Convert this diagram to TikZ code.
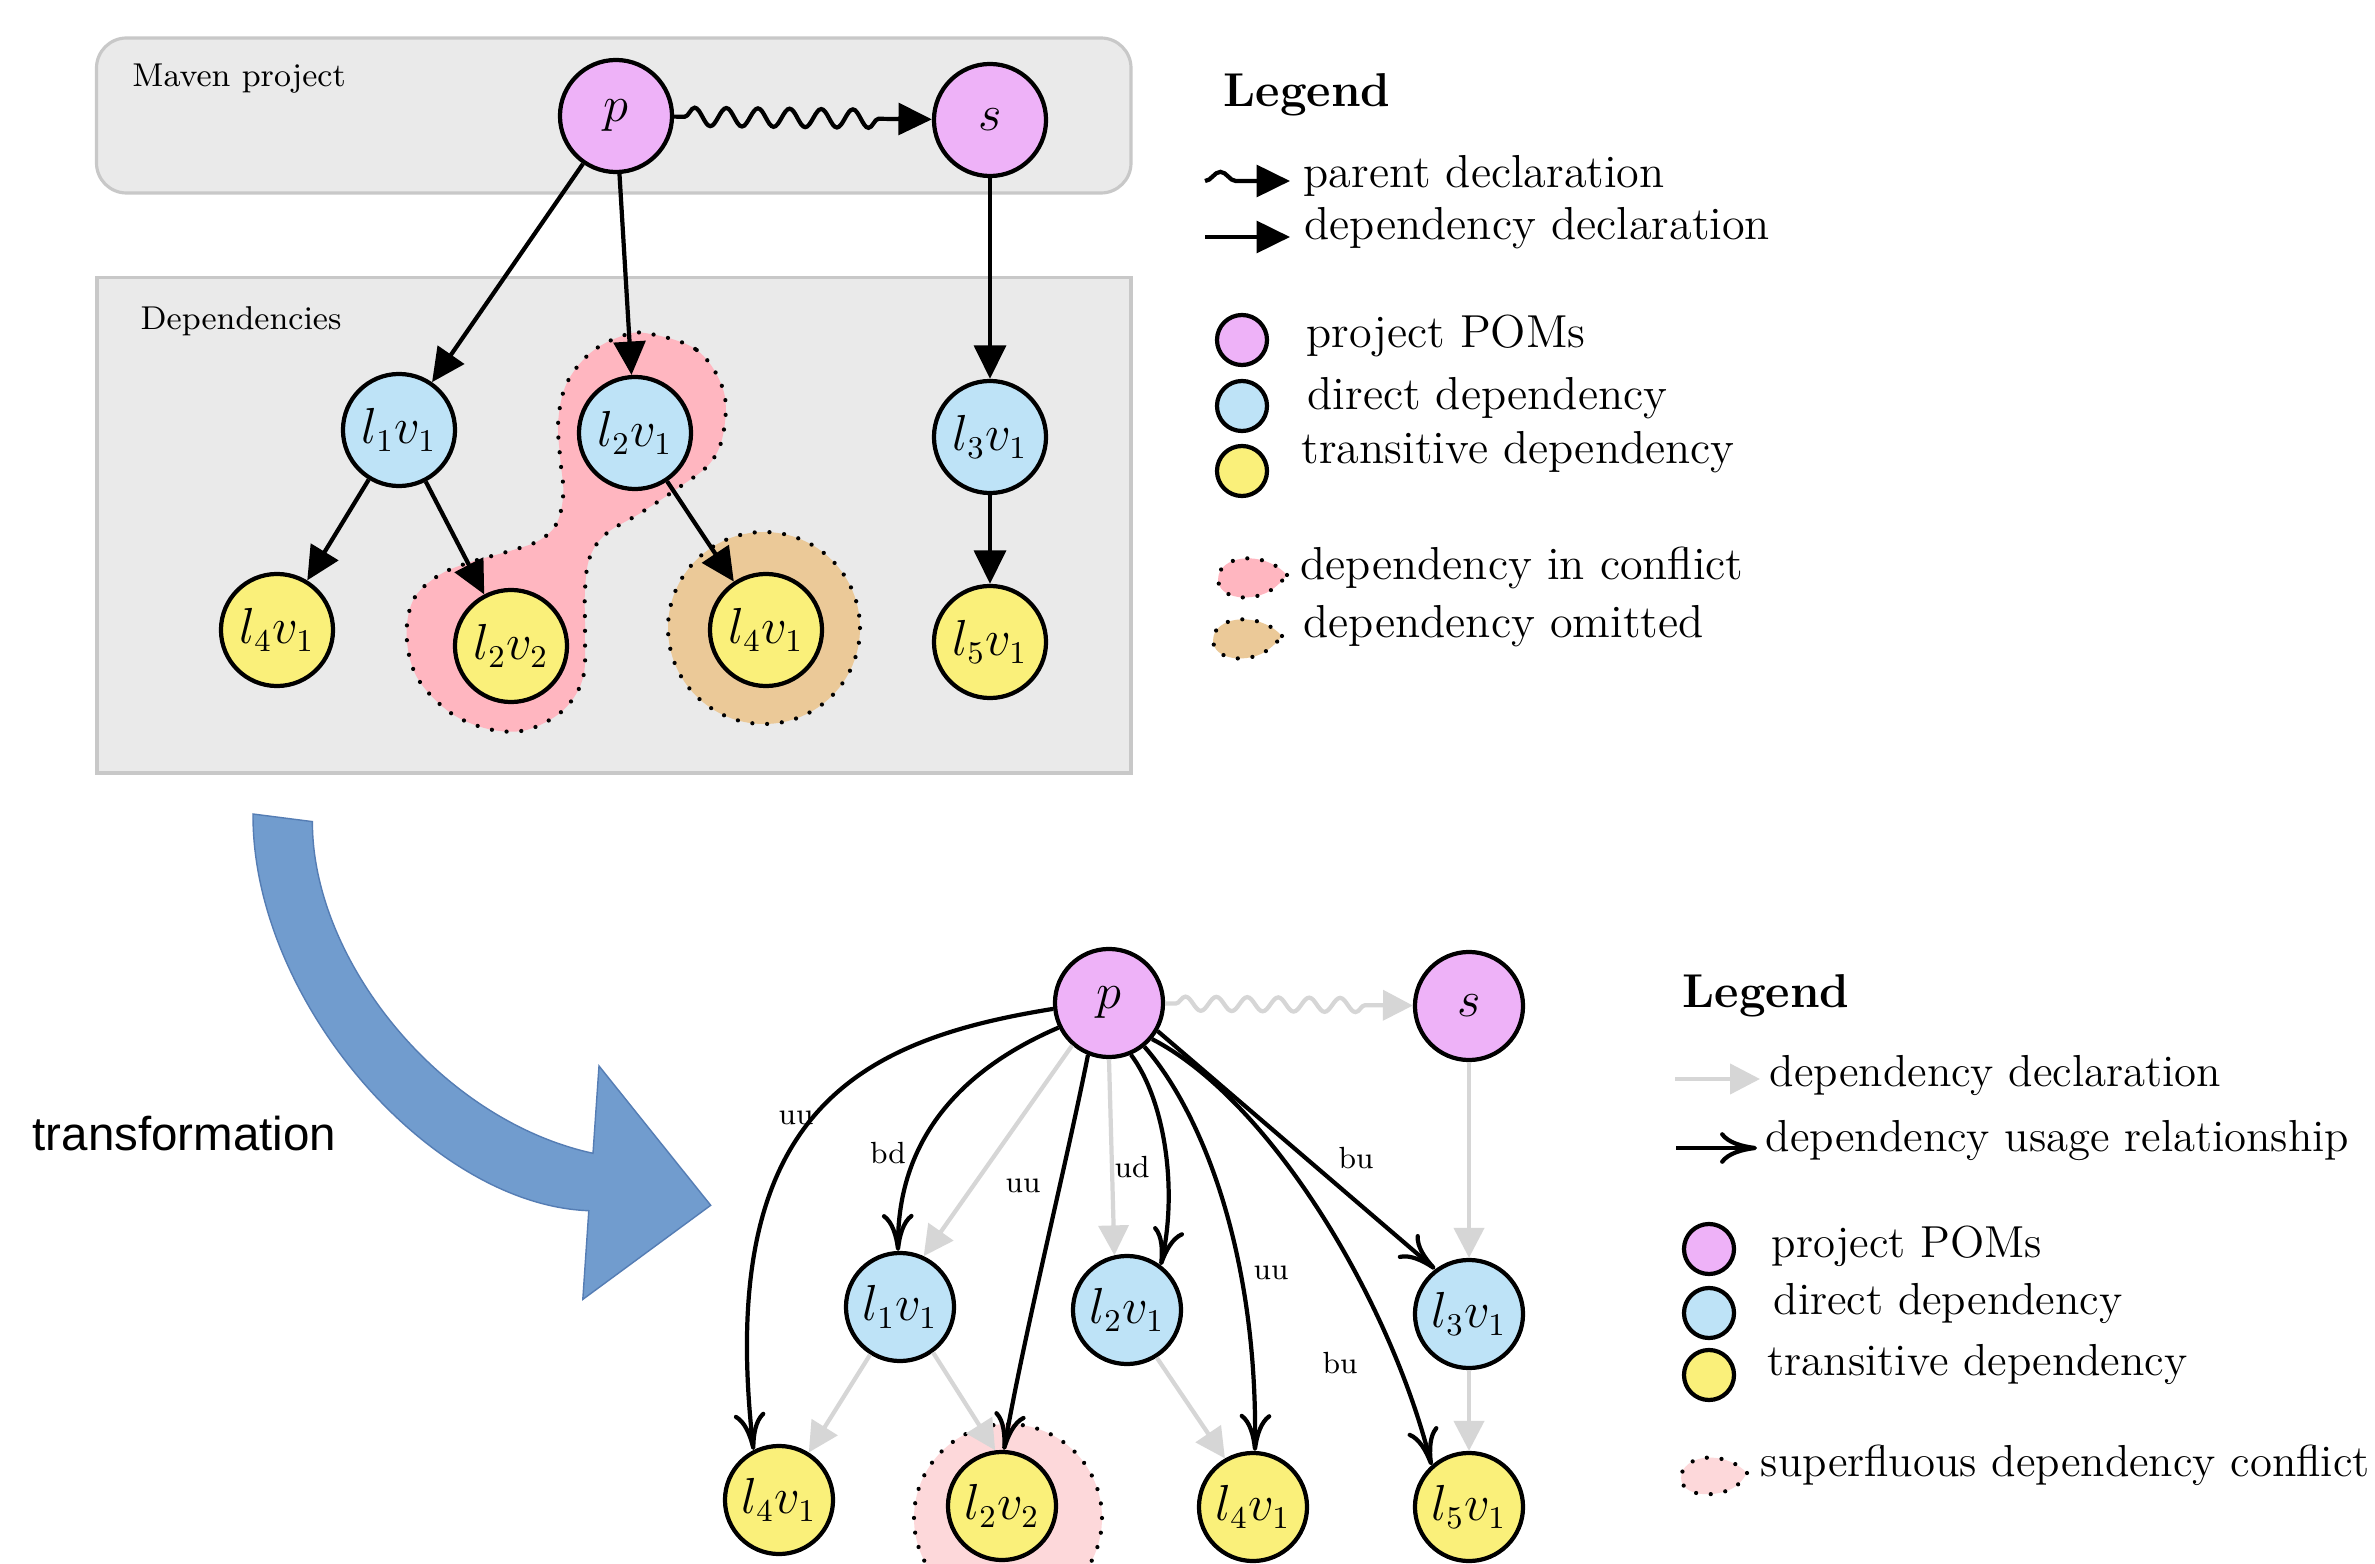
\documentclass[tikz,border=0pt]{standalone}
\usepackage{fontspec}
\newfontfamily\trafont{Liberation Sans}
\usetikzlibrary{arrows.meta,decorations.pathmorphing}
\definecolor{pomfill}{RGB}{238,178,248}
\definecolor{dirfill}{RGB}{190,227,247}
\definecolor{trafill}{RGB}{250,240,122}
\definecolor{boxfill}{RGB}{234,234,234}
\definecolor{boxdraw}{RGB}{200,200,200}
\definecolor{conflictc}{RGB}{255,182,192}
\definecolor{omittedc}{RGB}{235,201,152}
\definecolor{superc}{RGB}{253,216,218}
\definecolor{declgray}{RGB}{214,214,214}
\definecolor{bluefill}{RGB}{113,156,206}
\definecolor{blueline}{RGB}{85,125,180}
\tikzset{
  nd/.style={circle, draw=black, line width=1.2pt, minimum size=1.12cm, inner sep=0pt,
    font=\fontsize{13.4}{15}\selectfont},
  bnd/.style={minimum size=1.08cm},
  pom/.style={nd, fill=pomfill},
  dir/.style={nd, fill=dirfill},
  tra/.style={nd, fill=trafill},
  lgc/.style={circle, draw=black, line width=1.2pt, minimum size=0.5cm, inner sep=0pt},
  decl/.style={line width=1.2pt, -{Triangle[length=9.5pt,width=9pt]}},
  parent/.style={decl, decorate, decoration={snake, amplitude=2.6pt, segment length=9pt, pre length=3pt, post length=11pt}},
  gdecl/.style={draw=declgray, line width=1.2pt, -{Triangle[length=8.5pt,width=8.5pt]}},
  gparent/.style={gdecl, decorate, decoration={snake, amplitude=2pt, segment length=8.8pt, pre length=3pt, post length=10pt}},
  usage/.style={line width=1.2pt, -{Computer Modern Rightarrow[length=10.5pt,width=9pt]}},
  blob/.style={draw=black, line width=1.2pt, dash pattern=on 0pt off 4.2pt, line cap=round},
  boxst/.style={draw=boxdraw, fill=boxfill, line width=0.9pt},
  lgtxt/.style={anchor=base west, inner sep=0pt, font=\fontsize{13.15}{15}\selectfont},
  lgtxtb/.style={anchor=base west, inner sep=0pt, font=\fontsize{12.75}{15}\selectfont},
  lghead/.style={anchor=base west, inner sep=0pt, font=\fontsize{13.5}{16}\selectfont\bfseries},
  boxlbl/.style={anchor=base west, inner sep=0pt, font=\fontsize{9.4}{11}\selectfont},
  elbl/.style={inner sep=0pt, font=\fontsize{8.7}{10}\selectfont},
}
\begin{document}
\begin{tikzpicture}[x=0.01cm,y=-0.01cm]
\useasboundingbox (0,0) rectangle (2375,1564);
\clip (0,0) rectangle (2375,1564);
\fill[white] (0,0) rectangle (2375,1564);

% ---------------- top diagram ----------------
\draw[boxst, rounded corners=0.3cm] (96.5,38) rectangle (1131,193);
\draw[boxst] (97,277.5) rectangle (1131,773);
\node[boxlbl] (tmaven) at (131.7,86.7) {Maven project};
\node[boxlbl] (tdeps) at (140,329.3) {Dependencies};

% conflict / omitted blobs
\filldraw[blob, fill=conflictc] plot[smooth cycle, tension=0.6] coordinates {
 (646.7,333.3) (696.7,350) (723.3,390) (723.3,433.3) (710,463.3) (680,486.7)
 (640,513.3) (606.7,533.3) (590,556.7) (585,590) (585,633.3) (583.3,676.7)
 (566.7,706.7) (540,725) (513.3,731.7) (480,726.7) (446.7,710) (416.7,676.7)
 (406.7,636.7) (413.3,600) (436.7,576.7) (466.7,563.3) (513.3,550) (540,540)
 (556.7,523.3) (563.3,493.3) (560,456.7) (558.3,420) (566.7,383.3) (590,353.3)
 (620,336.7)};
\filldraw[blob, fill=omittedc] (764,628) circle[radius=96];

\node[pom] (p) at (616,116) {$p$};
\node[pom] (s) at (990,120) {$s$};
\node[dir] (l1) at (399,430) {$l_1v_1$};
\node[dir] (l2) at (635,433) {$l_2v_1$};
\node[dir] (l3) at (990,437) {$l_3v_1$};
\node[tra] (l4a) at (277,630) {$l_4v_1$};
\node[tra] (l22) at (511,646) {$l_2v_2$};
\node[tra] (l4b) at (766,630) {$l_4v_1$};
\node[tra] (l5) at (990,642) {$l_5v_1$};

\draw[parent] (p) -- (s);
\draw[decl] (p) -- (l1);
\draw[decl] (p) -- (l2);
\draw[decl] (s) -- (l3);
\draw[decl] (l1) -- (l4a);
\draw[decl] (l1) -- (l22);
\draw[decl] (l2) -- (l4b);
\draw[decl] (l3) -- (l5);

% top legend
\node[lghead] (tlg) at (1223,107) {Legend};
\coordinate (tw1) at (1205,181);
\coordinate (tw2) at (1290,181);
\draw[line width=1.2pt, -{Triangle[length=9.5pt,width=9pt]}, decorate,
  decoration={snake, amplitude=2.6pt, segment length=14pt, post length=12pt}] (tw1) -- (tw2);
\coordinate (td1) at (1205,237);
\coordinate (td2) at (1290,237);
\draw[decl] (td1) -- (td2);
\node[lgtxt] (tt1) at (1303,188) {parent declaration};
\node[lgtxt] (tt2) at (1304,240) {dependency declaration};
\node[lgc, fill=pomfill] (tc1) at (1242,340) {};
\node[lgc, fill=dirfill] (tc2) at (1242,406) {};
\node[lgc, fill=trafill] (tc3) at (1242,471) {};
\node[lgtxt] (tt3) at (1306,348) {project POMs};
\node[lgtxt] (tt4) at (1307,410) {direct dependency};
\node[lgtxt] (tt5) at (1301,464) {transitive dependency};
\begin{scope}[shift={(1216,557)}]
\filldraw[blob, fill=conflictc] (71,18) .. controls (52,-3) and (15,-4) .. (4,14)
  .. controls (-6,37) and (25,47) .. (50,36) .. controls (60,31) and (67,23) .. (71,18);
\end{scope}
\begin{scope}[shift={(1211,618)}]
\filldraw[blob, fill=omittedc] (71,18) .. controls (52,-3) and (15,-4) .. (4,14)
  .. controls (-6,37) and (25,47) .. (50,36) .. controls (60,31) and (67,23) .. (71,18);
\end{scope}
\node[lgtxt] (tt6) at (1300,580) {dependency in conflict};
\node[lgtxt] (tt7) at (1303,637) {dependency omitted};

% ---------------- transformation arrow ----------------
\filldraw[fill=bluefill, draw=blueline, line width=0.4pt]
  (253,814) -- (312.4,821.6) .. controls (312,960) and (440,1120) .. (593,1153.3)
  -- (599,1066) -- (710.7,1205.3) -- (582.8,1299.4) -- (588.8,1210.7)
  .. controls (430,1205) and (252,1000) .. (253,814) -- cycle;
\node[anchor=base west, inner sep=0pt, font=\trafont\fontsize{13.5}{16}\selectfont] (trans) at (32,1150) {transformation};

% ---------------- bottom diagram ----------------
\filldraw[blob, fill=superc] (1008,1518) circle[radius=94];

\node[pom, bnd] (bp) at (1109,1003) {$p$};
\node[pom, bnd] (bs) at (1469,1006) {$s$};
\node[dir, bnd] (bl1) at (900,1307) {$l_1v_1$};
\node[dir, bnd] (bl2) at (1127,1310) {$l_2v_1$};
\node[dir, bnd] (bl3) at (1469,1314) {$l_3v_1$};
\node[tra, bnd] (bl4a) at (779,1500) {$l_4v_1$};
\node[tra, bnd] (bl22) at (1002,1506) {$l_2v_2$};
\node[tra, bnd] (bl4b) at (1253,1507) {$l_4v_1$};
\node[tra, bnd] (bl5) at (1469,1507) {$l_5v_1$};

% gray declarations
\draw[gparent] (bp) -- (bs);
\draw[gdecl] (bp.229) -- (bl1.65);
\draw[gdecl] (bp.270) -- (bl2.103);
\draw[gdecl] (bs) -- (bl3);
\draw[gdecl] (bl1) -- (bl4a);
\draw[gdecl] (bl1.306) -- (bl22.97);
\draw[gdecl] (bl2.302) -- (bl4b.120);
\draw[gdecl] (bl3) -- (bl5);

% usage relationships
\draw[usage] (bp.186) .. controls (860,1040) and (715,1110) .. (bl4a.117);
\draw[usage] (bp.206) .. controls (960,1070) and (897,1140) .. (bl1.92);
\draw[usage] (bp.248) .. controls (1065,1170) and (1025,1330) .. (bl22.88);
\draw[usage] (bp.293) .. controls (1165,1100) and (1178,1190) .. (bl2.53);
\draw[usage] (bp.309) .. controls (1200,1110) and (1258,1250) .. (bl4b.88);
\draw[usage] (bp.330) -- (bl3.127);
\draw[usage] (bp.320) .. controls (1270,1100) and (1390,1300) .. (bl5.132);

\node[elbl] (e1) at (796,1118) {uu};
\node[elbl] (e2) at (888,1153) {bd};
\node[elbl] (e3) at (1023,1186) {uu};
\node[elbl] (e4) at (1132,1167) {ud};
\node[elbl] (e5) at (1271,1273) {uu};
\node[elbl] (e6) at (1356,1158) {bu};
\node[elbl] (e7) at (1340,1363) {bu};

% bottom legend
\node[lghead] (blg) at (1682,1007) {Legend};
\coordinate (bg1) at (1675,1079);
\coordinate (bg2) at (1760,1079);
\draw[gdecl] (bg1) -- (bg2);
\coordinate (bu1) at (1676,1148);
\coordinate (bu2) at (1757,1148);
\draw[usage] (bu1) -- (bu2);
\node[lgtxtb] (bt1) at (1769,1086) {dependency declaration};
\node[lgtxtb] (bt2) at (1765,1151) {dependency usage relationship};
\node[lgc, fill=pomfill] (bc1) at (1709,1249) {};
\node[lgc, fill=dirfill] (bc2) at (1709,1313) {};
\node[lgc, fill=trafill] (bc3) at (1709,1375) {};
\node[lgtxtb] (bt3) at (1771,1257) {project POMs};
\node[lgtxtb] (bt4) at (1773,1314) {direct dependency};
\node[lgtxtb] (bt5) at (1767,1375) {transitive dependency};
\begin{scope}[shift={(1679,1456)}]
\filldraw[blob, fill=superc] (68,17) .. controls (50,-2) and (15,-4) .. (4,14)
  .. controls (-6,36) and (25,44) .. (50,34) .. controls (60,30) and (65,22) .. (68,17);
\end{scope}
\node[lgtxtb] (bt6) at (1760,1476) {superfluous dependency conflict};
\end{tikzpicture}
\end{document}
